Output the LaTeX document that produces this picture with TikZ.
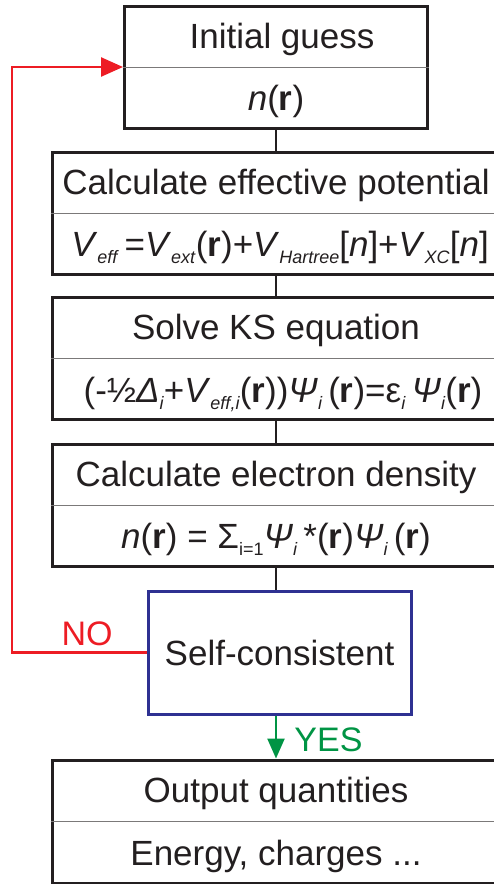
\documentclass[tikz,border=0pt]{standalone}
\usepackage{fontspec}
\setmainfont{Liberation Sans}
\usetikzlibrary{arrows.meta,calc}

\definecolor{ink}{RGB}{35,31,32}
\definecolor{loopred}{RGB}{237,28,36}
\definecolor{yesgreen}{RGB}{0,148,68}
\definecolor{checkblue}{RGB}{46,49,146}

\newcommand{\sbs}[1]{\raisebox{-0.2em}{\fontsize{18}{18}\selectfont\textit{#1}}}
\newcommand{\bfr}{\textbf{r}}

\begin{document}
\begin{tikzpicture}[x=1pt,y=-1pt,font=\fontsize{35}{42}\selectfont,
  box/.style={draw=ink,line width=3pt,minimum width=448pt,minimum height=122pt,inner sep=0pt},
  check/.style={draw=checkblue,line width=3pt,minimum width=263pt,minimum height=123pt,inner sep=0pt,text=ink,text height=25pt,text depth=0pt},
  txt/.style={text=ink,text height=25pt,text depth=0pt,inner sep=0pt},
  lbl/.style={font=\fontsize{34}{40}\selectfont,text height=24pt,text depth=0pt,inner sep=0pt},
  divider/.style={draw=ink!60,line width=1pt},
  link/.style={draw=ink,line width=2.5pt},
  no/.style={draw=loopred,line width=2.5pt,-{Triangle[length=22pt,width=19pt]}},
  yes/.style={draw=yesgreen,line width=2.5pt,-{Triangle[length=20pt,width=17pt]}}]
\clip (0,0) rectangle (494,884);
\node[box,minimum width=303pt] (init) at (276,67) {};
\node[box] (veff) at (276,213) {};
\node[box] (ks) at (276,358.5) {};
\node[box] (dens) at (276,505) {};
\node[check] (scf) at (279.5,652.5) {Self-consistent};
\node[box,minimum height=123pt] (out) at (276,821.5) {};
\draw[divider] (init.west) -- (init.east);
\draw[divider] (veff.west) -- (veff.east);
\draw[divider] (ks.west) -- (ks.east);
\draw[divider] (dens.west) -- (dens.east);
\draw[divider] (out.west) -- (out.east);
\node[txt] (init-a) at ($(init.center)!0.5!(init.north)+(6,0)$) {Initial guess};
\node[txt] (init-b) at ($(init.center)!0.5!(init.south)$) {\textit{n}(\bfr)};
\node[txt] (veff-a) at ($(veff.center)!0.5!(veff.north)$) {Calculate effective potential};
\node[txt] (veff-b) at ($(veff.center)!0.5!(veff.south)+(4,0)$) {\textit{V}\sbs{eff}\,=\textit{V}\sbs{ext}(\bfr)+\textit{V}\sbs{Hartree}[\textit{n}]+\textit{V}\sbs{XC}[\textit{n}]};
\node[txt] (ks-a) at ($(ks.center)!0.5!(ks.north)$) {Solve KS equation};
\node[txt] (ks-b) at ($(ks.center)!0.5!(ks.south)+(7,0)$) {(-½\textit{Δ}\sbs{i}+\textit{V}\sbs{eff,i}(\bfr))\textit{Ψ}\sbs{i}\,(\bfr)=ε\sbs{i}\,\textit{Ψ}\sbs{i}(\bfr)};
\node[txt] (dens-a) at ($(dens.center)!0.5!(dens.north)$) {Calculate electron density};
\node[txt] (dens-b) at ($(dens.center)!0.5!(dens.south)$) {\textit{n}(\bfr) = Σ\raisebox{-0.2em}{\fontsize{18}{18}\selectfont i=1}\textit{Ψ}\sbs{i}\,*(\bfr)\textit{Ψ}\sbs{i}\,(\bfr)};
\node[txt] (out-a) at ($(out.center)!0.5!(out.north)$) {Output quantities};
\node[txt] (out-b) at ($(out.center)!0.5!(out.south)$) {Energy, charges ...};
\coordinate (loop) at (12,360);
\draw[link] (init.south) -- (veff.north);
\draw[link] (veff.south) -- (ks.north);
\draw[link] (ks.south) -- (dens.north);
\draw[link] (dens.south) -- (dens.south |- scf.north);
\draw[no] (scf.west) -| (loop) |- (init.west);
\draw[yes] (scf.south -| out.north) -- (out.north);
\node[lbl,text=loopred] (no-lbl) at (87,633.5) {NO};
\node[lbl,text=yesgreen] (yes-lbl) at (328.5,739) {YES};
\end{tikzpicture}
\end{document}
